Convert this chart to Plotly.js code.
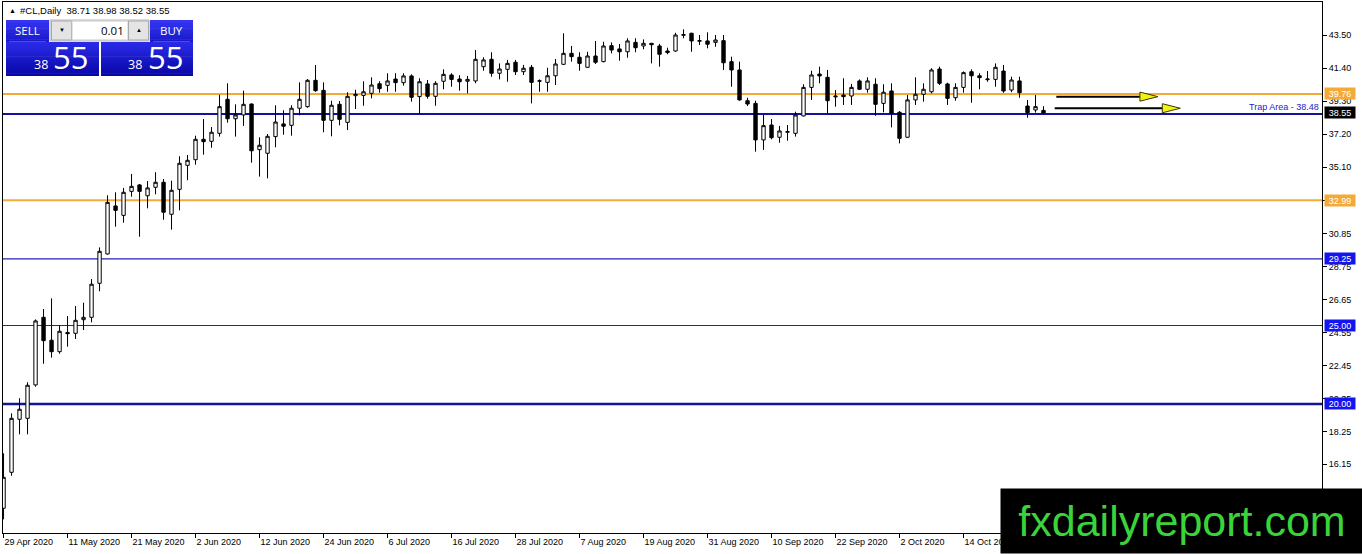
<!DOCTYPE html>
<html><head><meta charset="utf-8">
<script src="https://cdn.plot.ly/plotly-3.0.1.min.js"></script>
<style>html,body{margin:0;padding:0;background:#fff;overflow:hidden}#chart{width:1362px;height:554px}</style>
</head><body><div id="chart"></div>
<script>
// ---------------- data ----------------
const symbolName = '#CL,Daily';
const opens  = [13.35,15.64,19.02,19.08,21.21,25.52,24.06,23.33,24.55,24.50,25.37,25.52,27.69,29.56,32.62,32.02,33.55,33.96,33.27,33.81,34.13,32.09,33.68,35.21,35.57,36.87,36.74,37.25,39.42,38.18,38.42,39.12,36.21,35.98,37.04,37.85,37.76,38.85,38.95,40.63,39.99,38.08,39.10,37.95,39.65,39.67,39.80,40.41,40.31,40.71,40.48,40.91,39.59,40.40,39.61,40.57,40.97,40.71,40.57,40.59,41.50,41.97,41.08,41.33,41.78,41.18,41.46,40.57,40.50,40.92,41.65,42.35,42.10,41.46,42.18,41.82,42.84,42.63,42.45,43.05,42.82,42.99,42.82,42.50,42.50,43.50,43.63,43.12,43.14,43.05,43.16,41.82,41.29,39.33,39.16,36.83,37.78,37.00,37.32,37.25,38.36,40.18,41.03,40.82,39.57,39.69,39.63,40.59,40.06,40.38,39.16,39.95,38.59,37.00,39.38,39.74,39.90,41.35,40.40,39.52,40.18,41.18,40.92,40.67,40.69,41.22,40.01,40.59,38.99,38.74,38.71];
const highs  = [16.85,19.40,20.36,21.38,25.39,26.05,26.73,24.99,25.60,26.24,26.45,27.96,29.98,33.30,33.49,33.77,34.66,34.02,34.21,34.77,34.34,34.23,35.79,35.87,37.10,38.16,37.65,39.71,40.44,39.10,39.97,39.15,37.00,37.21,39.04,38.72,39.04,40.50,40.71,41.61,40.50,39.33,39.31,39.87,40.03,40.57,40.82,40.57,41.08,41.08,41.08,41.01,40.76,40.65,40.57,41.33,41.08,40.95,40.91,42.56,42.10,42.42,41.71,41.93,41.93,41.61,41.61,40.69,41.43,41.99,43.63,42.82,42.42,42.45,43.14,43.09,43.05,42.95,43.31,43.31,43.24,43.00,42.95,42.71,43.66,43.88,43.66,43.52,43.69,43.52,43.52,42.14,41.82,39.52,39.33,38.42,38.16,37.72,37.78,38.63,40.38,41.24,41.50,41.29,40.01,40.76,40.40,40.69,40.82,40.76,40.38,40.44,38.67,39.69,40.82,40.44,41.40,41.50,40.48,40.44,41.20,41.33,41.08,41.22,41.71,41.61,40.86,40.86,39.38,39.69,38.98];
const lows   = [12.64,15.42,18.06,18.06,21.10,22.56,22.95,23.20,23.65,24.14,24.71,25.20,27.18,29.52,31.30,31.55,33.21,30.66,32.47,33.36,31.74,31.11,32.34,34.26,35.25,35.89,36.33,37.04,37.93,37.04,37.72,35.38,34.49,34.38,36.36,37.16,37.10,38.40,38.88,39.90,37.32,37.06,37.76,37.46,38.80,39.01,39.48,39.84,39.90,39.90,40.29,39.27,38.48,39.46,39.01,40.06,40.22,39.97,39.80,40.44,41.24,40.86,40.69,40.54,40.97,40.97,39.16,39.90,39.90,40.33,41.61,41.82,41.24,41.44,41.67,41.78,42.35,41.88,42.07,42.42,42.61,41.71,41.50,42.29,42.45,43.31,42.45,42.88,42.67,42.77,41.29,40.22,39.33,38.99,36.08,36.19,36.87,36.65,36.78,37.04,38.33,39.38,40.44,38.53,38.95,39.06,39.06,40.01,39.84,38.37,38.59,37.63,36.61,36.97,39.06,39.27,39.80,40.33,39.06,39.33,39.84,39.20,40.06,40.54,40.22,39.84,39.87,39.52,38.25,38.57,38.52];
const closes = [15.32,19.08,19.66,21.19,25.29,24.03,23.33,24.63,24.48,25.33,25.52,27.63,29.73,32.85,32.34,33.49,33.87,33.55,33.77,34.13,32.22,33.62,35.34,35.53,36.87,36.72,37.32,38.95,38.18,38.42,39.10,36.14,36.49,37.06,37.97,37.70,38.85,39.42,40.63,39.97,38.08,39.04,38.14,39.61,39.74,39.90,40.33,40.10,40.59,40.48,40.91,39.55,40.54,39.61,40.44,41.01,40.69,40.54,40.69,41.97,41.93,41.08,41.35,41.71,41.18,41.40,40.50,40.60,40.92,41.67,42.35,42.14,41.71,42.18,41.78,42.82,42.56,42.45,43.14,42.71,42.99,42.90,42.29,42.40,43.52,43.54,43.14,43.16,42.93,43.20,41.75,41.29,39.38,39.12,36.83,37.74,36.97,37.40,37.36,38.42,40.18,40.97,40.91,39.33,39.62,39.59,40.18,40.06,40.59,39.10,39.87,38.53,36.93,39.38,39.74,40.06,41.29,40.44,39.48,40.18,41.12,40.92,40.80,40.71,41.46,39.95,40.65,39.84,38.57,38.95,38.55];
const dateLabels = ['29 Apr 2020','11 May 2020','21 May 2020','2 Jun 2020','12 Jun 2020','24 Jun 2020','6 Jul 2020','16 Jul 2020','28 Jul 2020','7 Aug 2020','19 Aug 2020','31 Aug 2020','10 Sep 2020','22 Sep 2020','2 Oct 2020','14 Oct 2020','26 Oct 2020'];
const dateLabelBars = [0,8,16,24,32,40,48,56,64,72,80,88,96,104,112,120,128];
const priceTickLabels = ['43.50','41.40','39.30','37.20','35.10','32.95','30.85','28.75','26.65','24.55','22.45','20.35','18.25','16.15'];
const levelPrices = [39.76, 38.48, 32.99, 29.25, 25.00, 20.00];
const trapLabel = 'Trap Area - 38.48';
const arrowStartBar = [131.6, 131.4];
const arrowEndBar   = [144.3, 147.1];
const arrowPrice    = [39.59, 38.85];
const lotSize = '0.01';
const watermark = 'fxdailyreport.com';

// ---------------- styles ----------------
const F = 'Liberation Sans, Arial, sans-serif';
const UI = 'Open Sans, Noto Sans, sans-serif';
const ORANGE = '#F3AA38', NAVY = '#12129C', THIN = '#2222B4', BLUE = '#1414F0';
const levelLook = [{c:ORANGE,w:2},{c:NAVY,w:2},{c:ORANGE,w:2},{c:THIN,w:1.2},{c:THIN,w:1.2},{c:NAVY,w:2.5}];
const tagLook = [ORANGE,null,ORANGE,BLUE,BLUE,BLUE];

const W=1362,H=554, ML=3, MR=40, MT=2, MB=21;
const PW=W-ML-MR, PH=H-MT-MB;
const PX = x => (x-ML)/PW;
const PY = y => 1-(y-MT)/PH;

const bars = opens.map((_,i)=>i);
const last = closes.length-1;

const shapes=[], annotations=[];

// horizontal levels
levelPrices.forEach((p,k)=>{
  shapes.push({type:'line',xref:'paper',x0:0,x1:1,yref:'y',y0:p,y1:p,line:{color:levelLook[k].c,width:levelLook[k].w},layer:'below'});
});

// arrows (line + yellow triangle head)
const headBars = 2.25, headHalf = 0.29;
arrowPrice.forEach((p,k)=>{
  const xb = arrowEndBar[k]-headBars;
  shapes.push({type:'line',xref:'x',yref:'y',x0:arrowStartBar[k],x1:xb,y0:p,y1:p,line:{color:'#000',width:2},layer:'above'});
  shapes.push({type:'path',xref:'x',yref:'y',path:`M${xb},${p+headHalf} L${arrowEndBar[k]},${p} L${xb},${p-headHalf} Z`,fillcolor:'#F2F214',line:{color:'#3a3a00',width:1},layer:'above'});
});

// one-click trading panel
function rect(x0,y0,x1,y1,fill,lc){shapes.push({type:'rect',xref:'paper',yref:'paper',x0:PX(x0),x1:PX(x1),y0:PY(y1),y1:PY(y0),fillcolor:fill,line:{width:lc?1:0,color:lc||fill},layer:'above'});}
function hex(c){return [1,3,5].map(i=>parseInt(c.substr(i,2),16));}
function mix(a,b,t){const A=hex(a),B=hex(b);return 'rgb('+A.map((v,i)=>Math.round(v+(B[i]-v)*t)).join(',')+')';}
function grad(x0,y0,x1,y1,c0,c1,n){for(let k=0;k<n;k++){const ya=y0+(y1-y0)*k/n, yb=y0+(y1-y0)*(k+1)/n; rect(x0,ya,x1,Math.min(y1,yb+0.6),mix(c0,c1,k/(n-1)));}}
function txt(x,y,s,size,color,xa,fam){annotations.push({xref:'paper',yref:'paper',x:PX(x),y:PY(y),text:s,showarrow:false,xanchor:xa||'center',yanchor:'middle',font:{family:fam||UI,size:size,color:color}});}

grad(6,20,49,42,'#3434F2','#1A1ACB',8);
grad(150,20,193,42,'#3434F2','#1A1ACB',8);
rect(9,41.2,46,41.8,'#8080F0');
rect(153,41.2,190,41.8,'#8080F0');
grad(6,42,99,76,'#2A2AE6','#0808A8',12);
grad(101,42,193,76,'#2A2AE6','#0808A8',12);
rect(50,20,149,41,'#F2F2F2','#B4B4B4');
rect(51.5,21,71.5,40,'#E4E4E4','#A8A8A8');
rect(72,21,128,40,'#FFFFFF','#C8C8C8');
rect(128.5,21,148.5,40,'#E4E4E4','#A8A8A8');
txt(27.5,30.5,'SELL',11.5,'#fff');
txt(171.5,30.5,'BUY',11.5,'#fff');
txt(61.5,30,'▼',6,'#000','center',F);
txt(138.5,30,'▲',6,'#000','center',F);
txt(126,30.5,lotSize,11.5,'#000','right');
const bid = closes[last].toFixed(2).split('.');
txt(49.5,64.5,bid[0],12.5,'#fff','right');
txt(51,57,bid[1],31,'#fff','left');
txt(144,64.5,bid[0],12.5,'#fff','right');
txt(145.5,57,bid[1],31,'#fff','left');

// header
txt(7,10,'▲',7,'#000','left',F);
txt(18,10,`${symbolName}  ${opens[last].toFixed(2)} ${highs[last].toFixed(2)} ${lows[last].toFixed(2)} ${closes[last].toFixed(2)}`,9.5,'#000','left',F);

// price tags on the right axis
levelPrices.forEach((p,k)=>{
  if(!tagLook[k]) return;
  annotations.push({xref:'paper',x:1,xanchor:'left',xshift:2,yref:'y',y:p,yanchor:'middle',text:p.toFixed(2),showarrow:false,bgcolor:tagLook[k],width:29,height:10,borderpad:0.5,font:{family:F,size:9,color:'#fff'}});
});
annotations.push({xref:'paper',x:1,xanchor:'left',xshift:2,yref:'y',y:closes[last],yanchor:'middle',text:closes[last].toFixed(2),showarrow:false,bgcolor:'#000',width:29,height:10,borderpad:0.5,font:{family:F,size:9,color:'#fff'}});
annotations.push({xref:'paper',x:1,xanchor:'right',xshift:-1,yref:'y',y:levelPrices[1],yanchor:'bottom',text:trapLabel,showarrow:false,font:{family:F,size:9,color:'#2323C8'}});

// watermark
annotations.push({xref:'paper',yref:'paper',x:PX(1000),xanchor:'left',y:PY(554),yanchor:'bottom',width:362,height:64,borderpad:0,bgcolor:'#000',text:watermark,showarrow:false,align:'center',valign:'middle',font:{family:F,size:43,color:'#3AD43A'}});

const trace = {type:'candlestick',x:bars,open:opens,high:highs,low:lows,close:closes,
  increasing:{line:{color:'#000',width:1},fillcolor:'#fff'},
  decreasing:{line:{color:'#000',width:1},fillcolor:'#000'},
  whiskerwidth:0,hoverinfo:'skip',showlegend:false};

const layout = {
  width:W,height:H,margin:{l:ML,r:MR,t:MT,b:MB,pad:0},
  paper_bgcolor:'#fff',plot_bgcolor:'#fff',showlegend:false,hovermode:false,
  boxgap:0.4,
  xaxis:{range:[-0.0675,(ML+PW-3.5)/8],tickvals:dateLabelBars,ticktext:dateLabels,ticks:'outside',ticklen:4,tickcolor:'#000',
    ticklabelposition:'outside right',tickfont:{family:F,size:9,color:'#000'},showgrid:false,zeroline:false,showline:true,mirror:true,linecolor:'#000',linewidth:1,
    rangeslider:{visible:false},fixedrange:true},
  yaxis:{side:'right',range:[11.77,45.623],tickvals:priceTickLabels.map(Number),ticktext:priceTickLabels,ticks:'outside',ticklen:4,tickcolor:'#000',
    tickfont:{family:F,size:9,color:'#000'},showgrid:false,zeroline:false,showline:true,mirror:true,linecolor:'#000',linewidth:1,fixedrange:true},
  shapes:shapes,annotations:annotations
};
Plotly.newPlot('chart',[trace],layout,{displayModeBar:false,staticPlot:true});
</script></body></html>
